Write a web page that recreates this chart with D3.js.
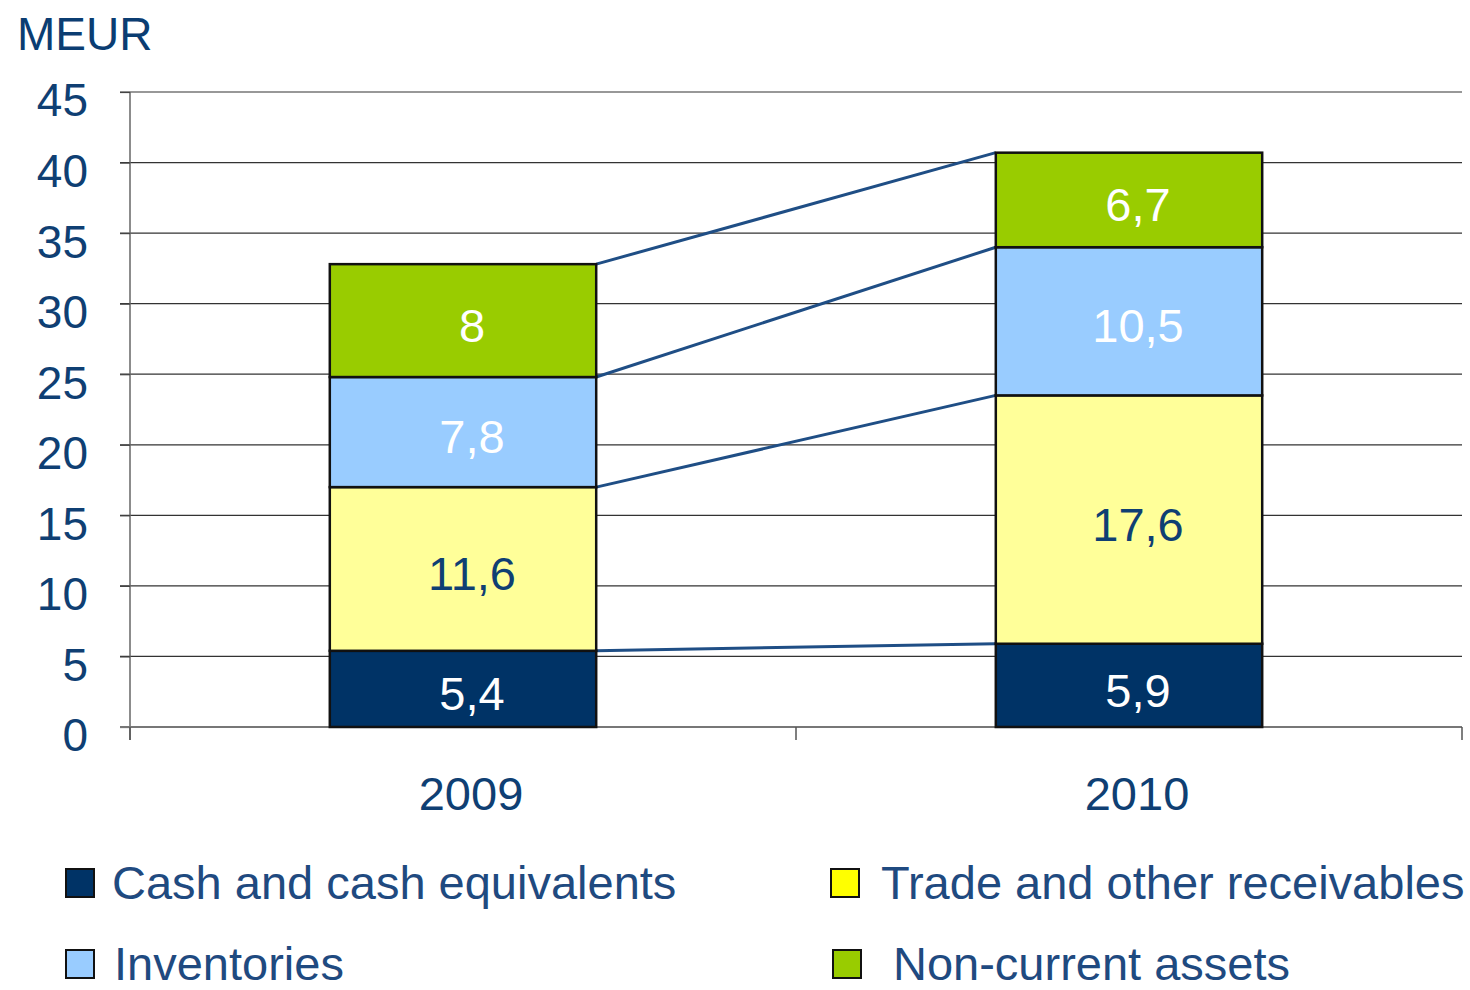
<!DOCTYPE html>
<html>
<head>
<meta charset="utf-8">
<script src="https://cdn.jsdelivr.net/npm/d3@7"></script>
<style>
  body { margin: 0; background: #fff; }
  svg { display: block; font-family: "Liberation Sans", Arial, sans-serif; }
</style>
</head>
<body>
<svg id="chart" width="1470" height="990"></svg>
<script>
// data
const years = ["2009", "2010"];
const seriesNames = ["Cash and cash equivalents", "Trade and other receivables", "Inventories", "Non-current assets"];
const cash = [5.4, 5.9];
const receivables = [11.6, 17.6];
const inventories = [7.8, 10.5];
const nonCurrent = [8, 6.7];
const yTicks = [0, 5, 10, 15, 20, 25, 30, 35, 40, 45];

const barFill = ["#003366", "#FFFF99", "#99CCFF", "#99CC00"];
const legendFill = ["#003366", "#FFFF00", "#99CCFF", "#99CC00"];
const labelFill = ["#ffffff", "#0f3f73", "#ffffff", "#ffffff"];
const textColor = "#0f3f73";

const svg = d3.select("#chart");
const x0 = 130, x1 = 1462, yTop = 92, yBot = 727;

const y = d3.scaleLinear().domain([0, 45]).range([yBot, yTop]);
const x = d3.scaleBand().domain(years).range([x0, x1]).paddingInner(0).paddingOuter(0);
const barW = x.bandwidth() * 0.4;
const barX = d => x(d) + (x.bandwidth() - barW) / 2;

// table for the stack
const keys = ["s0", "s1", "s2", "s3"];
const table = years.map((yr, i) => ({
  year: yr,
  s0: cash[i], s1: receivables[i], s2: inventories[i], s3: nonCurrent[i]
}));
const stack = d3.stack().keys(keys)(table);

// gridlines
svg.append("g")
  .selectAll("line")
  .data(yTicks.filter(t => t > 0))
  .join("line")
  .attr("x1", x0 - 10).attr("x2", x1)
  .attr("y1", d => y(d)).attr("y2", d => y(d))
  .attr("stroke", "#333").attr("stroke-width", 1.2);

// y axis
const yAxis = svg.append("g")
  .attr("transform", `translate(${x0},0)`)
  .call(d3.axisLeft(y).tickValues(yTicks).tickSize(10).tickSizeOuter(0));
yAxis.select(".domain").attr("stroke", "#666").attr("stroke-width", 1.5)
  .attr("d", `M0,${yTop}V${yBot + 13}`);
yAxis.selectAll(".tick line").attr("stroke", "#444").attr("stroke-width", 1.2);
yAxis.selectAll(".tick text")
  .attr("fill", textColor).attr("font-size", 46).attr("dy", "0.52em")
  .attr("x", -42);

// x axis
svg.append("line")
  .attr("x1", x0 - 10).attr("x2", x1).attr("y1", yBot).attr("y2", yBot)
  .attr("stroke", "#777").attr("stroke-width", 2);
svg.append("g")
  .selectAll("line")
  .data([x0, x0 + x.bandwidth(), x1])
  .join("line")
  .attr("x1", d => d).attr("x2", d => d)
  .attr("y1", yBot).attr("y2", yBot + 13)
  .attr("stroke", "#555").attr("stroke-width", 1.5);
svg.append("g")
  .selectAll("text")
  .data(years)
  .join("text")
  .attr("x", d => x(d) + x.bandwidth() / 2 + 8)
  .attr("y", 810)
  .attr("text-anchor", "middle")
  .attr("fill", textColor).attr("font-size", 47)
  .text(d => d);

// connector lines
const x2009 = barX(years[0]) + barW, x2010 = barX(years[1]);
svg.append("g")
  .selectAll("line")
  .data(stack)
  .join("line")
  .attr("x1", x2009).attr("x2", x2010)
  .attr("y1", s => y(s[0][1])).attr("y2", s => y(s[1][1]))
  .attr("stroke", "#1f4e85").attr("stroke-width", 3);

// bars
const layers = svg.append("g").selectAll("g")
  .data(stack)
  .join("g")
  .attr("fill", (s, i) => barFill[i]);
layers.selectAll("rect")
  .data(s => s)
  .join("rect")
  .attr("x", d => barX(d.data.year))
  .attr("width", barW)
  .attr("y", d => y(d[1]))
  .attr("height", d => y(d[0]) - y(d[1]))
  .attr("stroke", "#111").attr("stroke-width", 2.5);

// value labels
const fmt = v => String(v).replace(".", ",");
stack.forEach((s, i) => {
  svg.append("g").selectAll("text")
    .data(s)
    .join("text")
    .attr("x", d => barX(d.data.year) + barW / 2 + 9)
    .attr("y", d => (y(d[0]) + y(d[1])) / 2)
    .attr("dy", "0.45em")
    .attr("text-anchor", "middle")
    .attr("fill", labelFill[i]).attr("font-size", 47)
    .text(d => fmt(d.data[keys[i]]));
});

// unit label
svg.append("text")
  .attr("x", 17).attr("y", 50)
  .attr("fill", "#0b3d72").attr("font-size", 46)
  .text("MEUR");

// legend
const legendPos = [
  { sx: 66, sy: 869, tx: 112 },
  { sx: 831, sy: 869, tx: 881 },
  { sx: 66, sy: 950, tx: 114 },
  { sx: 833, sy: 950, tx: 893 }
];
const leg = svg.append("g").selectAll("g")
  .data(seriesNames)
  .join("g");
leg.append("rect")
  .attr("x", (d, i) => legendPos[i].sx).attr("y", (d, i) => legendPos[i].sy)
  .attr("width", 28).attr("height", 28)
  .attr("fill", (d, i) => legendFill[i])
  .attr("stroke", "#111").attr("stroke-width", 2);
leg.append("text")
  .attr("x", (d, i) => legendPos[i].tx).attr("y", (d, i) => legendPos[i].sy + 30)
  .attr("fill", "#1f4a80").attr("font-size", 47)
  .text(d => d);
</script>
</body>
</html>
